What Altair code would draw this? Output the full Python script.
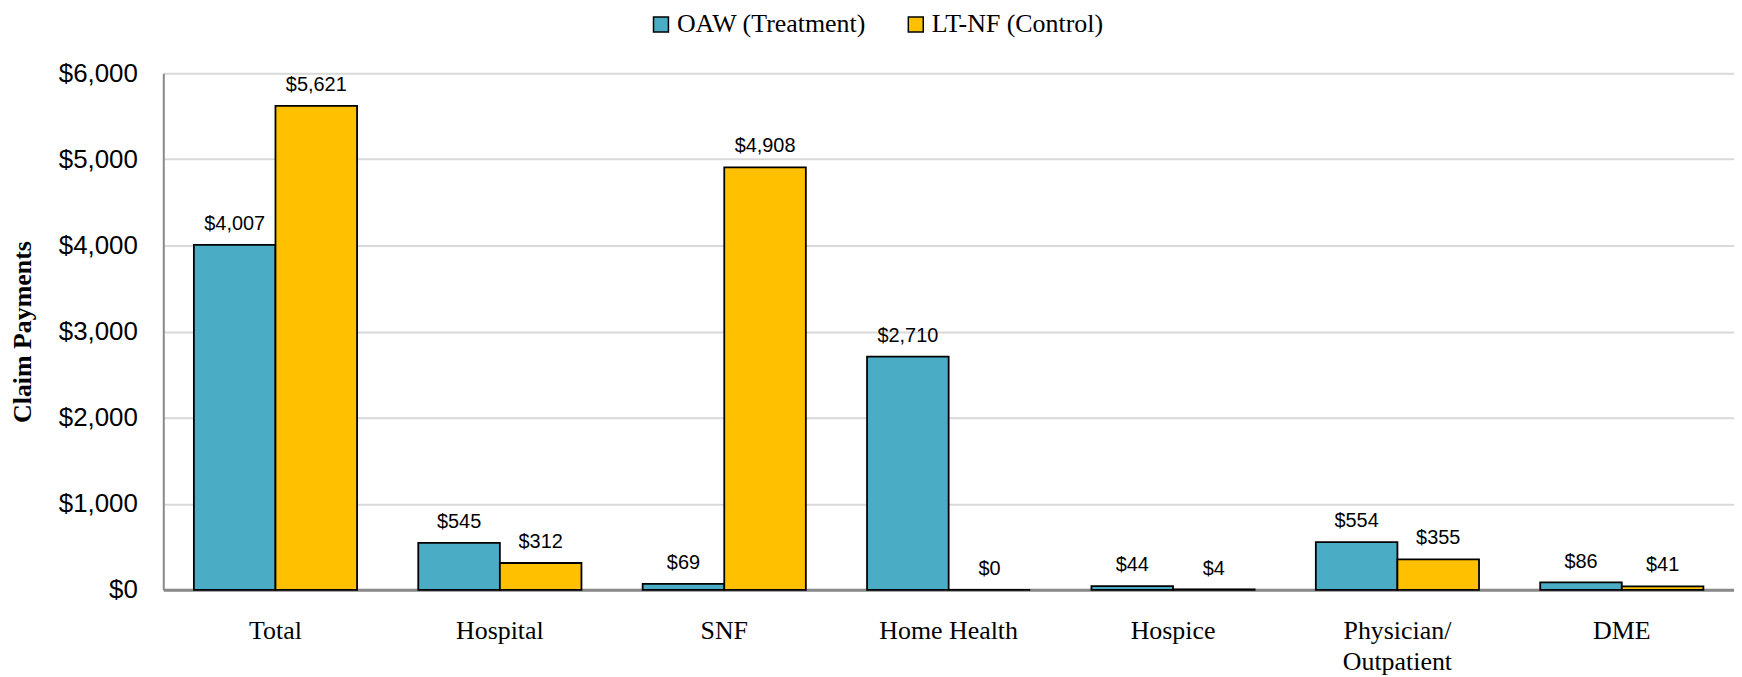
import altair as alt
import pandas as pd

categories = ["Total", "Hospital", "SNF", "Home Health", "Hospice", "Physician/Outpatient", "DME"]
series_names = ["OAW (Treatment)", "LT-NF (Control)"]
oaw_values = [4007, 545, 69, 2710, 44, 554, 86]
ltnf_values = [5621, 312, 4908, 0, 4, 355, 41]
y_ticks = [0, 1000, 2000, 3000, 4000, 5000, 6000]
colors = ["#4BACC6", "#FFC000"]

rows = []
for c, a, b in zip(categories, oaw_values, ltnf_values):
    rows.append({"category": c, "series": series_names[0], "value": a})
    rows.append({"category": c, "series": series_names[1], "value": b})
df = pd.DataFrame(rows)

x_enc = alt.X(
    "category:N",
    sort=categories,
    scale=alt.Scale(paddingInner=0, paddingOuter=0),
    axis=alt.Axis(
        title=None,
        labelAngle=0,
        labelFont="Liberation Serif",
        labelFontSize=26,
        labelColor="black",
        labelPadding=28,
        labelLineHeight=31,
        labelExpr="datum.label == 'Physician/Outpatient' ? ['Physician/', 'Outpatient'] : datum.label",
        ticks=False,
        domainColor="#898989",
        domainWidth=3,
        grid=False,
    ),
)
xoff_enc = alt.XOffset(
    "series:N",
    sort=series_names,
    scale=alt.Scale(paddingInner=0, paddingOuter=0.375),
)
y_enc = alt.Y(
    "value:Q",
    scale=alt.Scale(domain=[0, 6000], nice=False),
    axis=alt.Axis(
        title="Claim Payments",
        values=y_ticks,
        format="$,.0f",
        labelFont="Liberation Sans",
        labelFontSize=26,
        labelColor="black",
        labelPadding=26,
        ticks=False,
        domainColor="#898989",
        domainWidth=2,
        gridColor="#D9D9D9",
        gridWidth=2,
        titleFont="Liberation Serif",
        titleFontSize=26,
        titleFontWeight="bold",
        titleColor="black",
        titleAngle=270,
        titleX=-133,
        titleY=259.5,
        titleAlign="center",
        titleBaseline="alphabetic",
    ),
)

bars = alt.Chart(df).mark_bar(stroke="black", strokeWidth=1.8).encode(
    x=x_enc,
    xOffset=xoff_enc,
    y=y_enc,
    color=alt.Color(
        "series:N",
        sort=series_names,
        scale=alt.Scale(domain=series_names, range=colors),
        title=None,
        legend=alt.Legend(
            orient="none",
            legendX=487,
            legendY=-62,
            direction="horizontal",
            symbolType="square",
            symbolSize=225,
            symbolStrokeColor="black",
            symbolStrokeWidth=1.5,
            symbolOpacity=1,
            labelFont="Liberation Serif",
            labelFontSize=26,
            labelColor="black",
            labelOffset=3,
            labelLimit=600,
            columnPadding=37,
        ),
    ),
)

labels = alt.Chart(df).mark_text(
    font="Liberation Sans", fontSize=20, baseline="alphabetic", dy=-15, color="black"
).encode(
    x=alt.X("category:N", sort=categories),
    xOffset=alt.XOffset("series:N", sort=series_names),
    y="value:Q",
    text=alt.Text("value:Q", format="$,.0f"),
)

chart = alt.layer(bars, labels).properties(
    width=1578,
    height=519,
    autosize=alt.AutoSizeParams(type="none"),
    padding={"left": 156, "top": 64, "right": 0, "bottom": 88},
).configure_view(stroke=None)

chart.save("out.html", embed_options={"renderer": "svg", "actions": False})
